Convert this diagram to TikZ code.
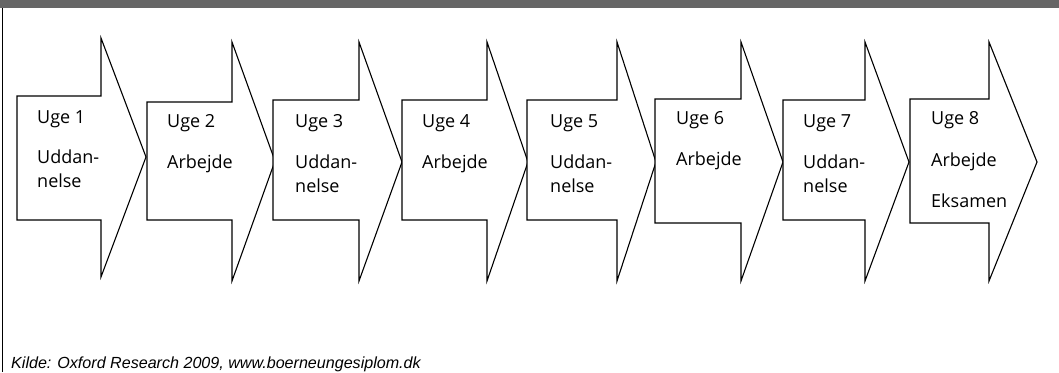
\documentclass[tikz,border=0pt]{standalone}
\usepackage{fontspec}
\setmainfont{Liberation Sans}
\newfontfamily\labelfont{Open Sans}
\definecolor{barGray}{HTML}{666666}
\begin{document}
\begin{tikzpicture}[x=1pt,y=-1pt,
  weekarrow/.style={draw=black,fill=white,line width=1.1pt,line join=miter},
  lbl/.style={anchor=base west,inner sep=0pt,font=\labelfont\fontsize{18}{18}\selectfont},
  src/.style={anchor=base west,inner sep=0pt,font=\itshape\fontsize{16.1}{16.1}\selectfont}]
\useasboundingbox (0,0) rectangle (1059,372);
% header bar and left rule
\fill[barGray] (0,0) rectangle (1059,8);
\coordinate (ruleTop) at (2.5,8);
\coordinate (ruleBot) at (2.5,372);
\draw[line width=1pt] (ruleTop) -- (ruleBot);
% block arrows: left edge, body top, body bottom, shaft end, point top, point bottom, tip
\foreach \i/\L/\T/\B/\S/\pt/\pb/\tx/\ty in {
  1/17/96/220/101/38/277/146/157,
  2/147/102/220/232/42/281/275/161,
  3/273/100/220/359/42/281/402/162,
  4/402/100/220/487/42/281/528/162,
  5/527/100/220/617/42/281/656/162,
  6/655/99/223/741/42/281/783/162,
  7/783/100/220/865/42/281/909/162,
  8/910/99/223/989/42/281/1037/162}{
  \coordinate (w\i tip) at (\tx,\ty);
  \draw[weekarrow] (\L,\T) -- (\S,\T) -- (\S,\pt) -- (w\i tip) -- (\S,\pb)
    -- (\S,\B) -- (\L,\B) -- cycle;
}
% week labels
\foreach \i/\x/\y in {1/37/123,2/167/127,3/295/127,4/422/127,5/550/127,6/676/124,7/803/127,8/931/124}
  \node[lbl] (uge\i) at (\x,\y) {Uge \i};
\foreach \i/\x/\y in {1/37/163,3/295/168,5/550/168,7/803/168}{
  \node[lbl] (udd\i) at (\x,\y) {Uddan-};
  \node[lbl] (nel\i) at (\x,\y+24) {nelse};
}
\foreach \i/\x/\y in {2/167/168,4/422/168,6/676/165,8/931/166}
  \node[lbl] (arb\i) at (\x,\y) {Arbejde};
\node[lbl] (eks8) at (931,207) {Eksamen};
% source line
\node[src] (source) at (11,368) {Kilde: Oxford Research 2009, www.boerneungesiplom.dk};
\end{tikzpicture}
\end{document}
